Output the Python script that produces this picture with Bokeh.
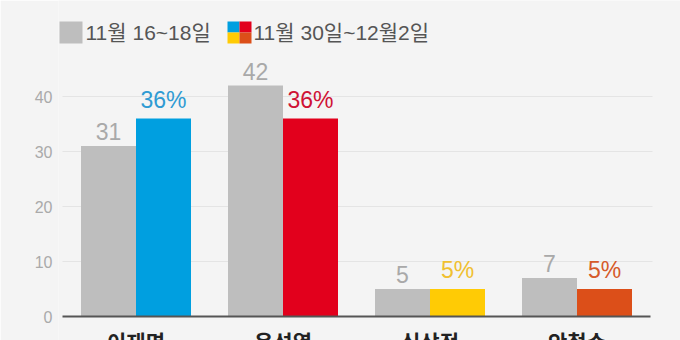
from bokeh.plotting import figure
from bokeh.models import FixedTicker, Range1d
from bokeh.core.properties import value
from bokeh.embed import file_html
from bokeh.resources import INLINE

# ---------------- data ----------------
candidates = ["이재명", "윤석열", "심상정", "안철수"]
poll_nov16_18 = [31, 42, 5, 7]
poll_nov30_dec2 = [36, 36, 5, 5]
recent_colors = ["#009fe0", "#e2001c", "#ffcb05", "#dc4f19"]
recent_label_colors = ["#2f9bd3", "#cf1235", "#f0c030", "#d65a2a"]
y_ticks = [0, 10, 20, 30, 40]
grid_ticks = [10, 20, 30, 40]
legend_labels = ["11월 16~18일", "11월 30일~12월2일"]

# ---------------- layout constants (pixels) ----------------
W, H = 680, 340
FRAME_LEFT = 58
BASE_PX = 316
PX_PER_UNIT = 5.5
GROUP0_PX = 135.5
GROUP_STEP = 147.0
BAR_PX = 55.0

NUM_FONT = "'Liberation Sans', 'Noto Sans CJK KR', sans-serif"
KR_FONT = "'Noto Sans CJK KR', sans-serif"
BG = "#f4f4f4"


def px2x(px):
    return (px - GROUP0_PX) / GROUP_STEP


def py2y(py):
    return (BASE_PX - py) / PX_PER_UNIT


p = figure(
    width=W, height=H,
    x_range=Range1d(px2x(FRAME_LEFT), px2x(W)),
    y_range=Range1d(py2y(H), py2y(0)),
    min_border=0, min_border_left=FRAME_LEFT,
    toolbar_location=None, output_backend="svg",
    background_fill_color=BG, border_fill_color=BG,
    outline_line_color=None,
)
p.xgrid.visible = False
p.ygrid.visible = False

# gridlines
p.segment(x0=[px2x(62)] * len(grid_ticks), x1=[px2x(652)] * len(grid_ticks),
          y0=grid_ticks, y1=grid_ticks, line_color="#e4e4e4", line_width=1)

# bars
off = (BAR_PX / 2) / GROUP_STEP
bw = BAR_PX / GROUP_STEP
xs = list(range(len(candidates)))
x_old = [i - off for i in xs]
x_new = [i + off for i in xs]
p.vbar(x=x_old, top=poll_nov16_18, bottom=0, width=bw,
       fill_color="#bebebe", line_color=None)
p.vbar(x=x_new, top=poll_nov30_dec2, bottom=0, width=bw,
       fill_color=recent_colors, line_color=None)

# value labels
p.text(x=x_old, y=poll_nov16_18, text=[str(v) for v in poll_nov16_18],
       text_align="center", text_baseline="bottom", y_offset=-6,
       text_font=value(NUM_FONT), text_font_size="23px", text_color="#a9a9a9")
p.text(x=x_new, y=poll_nov30_dec2, text=[f"{v}%" for v in poll_nov30_dec2],
       text_align="center", text_baseline="bottom", y_offset=-6,
       text_font=value(NUM_FONT), text_font_size="23px",
       text_color=recent_label_colors)

# x axis (baseline + category names)
xa = p.xaxis[0]
xa.fixed_location = 0
xa.bounds = (px2x(62), px2x(650))
xa.ticker = FixedTicker(ticks=xs)
xa.major_label_overrides = {i: c for i, c in zip(xs, candidates)}
xa.axis_line_color = "#555555"
xa.axis_line_width = 2
xa.major_tick_line_color = None
xa.minor_tick_line_color = None
xa.major_tick_out = 0
xa.major_tick_in = 0
xa.major_label_standoff = 9
xa.major_label_text_font = KR_FONT
xa.major_label_text_font_size = "21px"
xa.major_label_text_font_style = "bold"
xa.major_label_text_color = "#222222"

# y axis
ya = p.yaxis[0]
ya.ticker = FixedTicker(ticks=y_ticks)
ya.axis_line_color = None
ya.major_tick_line_color = None
ya.minor_tick_line_color = None
ya.major_tick_out = 0
ya.major_label_standoff = 6
ya.major_label_text_font = NUM_FONT
ya.major_label_text_font_size = "16px"
ya.major_label_text_color = "#aaaaaa"

# legend
p.rect(x=[px2x(70.5)], y=[py2y(32)], width=23, height=22,
       width_units="screen", height_units="screen",
       fill_color="#bebebe", line_color=None)
q_x = [px2x(233), px2x(245), px2x(233), px2x(245)]
q_y = [py2y(26.5), py2y(26.5), py2y(37.5), py2y(37.5)]
q_c = [recent_colors[0], recent_colors[1], recent_colors[2], recent_colors[3]]
p.rect(x=q_x, y=q_y, width=12, height=11, width_units="screen",
       height_units="screen", fill_color=q_c, line_color=None)
p.text(x=[px2x(85), px2x(253)], y=[py2y(32), py2y(32)], text=legend_labels,
       text_align="left", text_baseline="middle",
       text_font=value(NUM_FONT), text_font_size="21px", text_color="#555555")

open("out.html", "w").write(file_html(p, INLINE))
